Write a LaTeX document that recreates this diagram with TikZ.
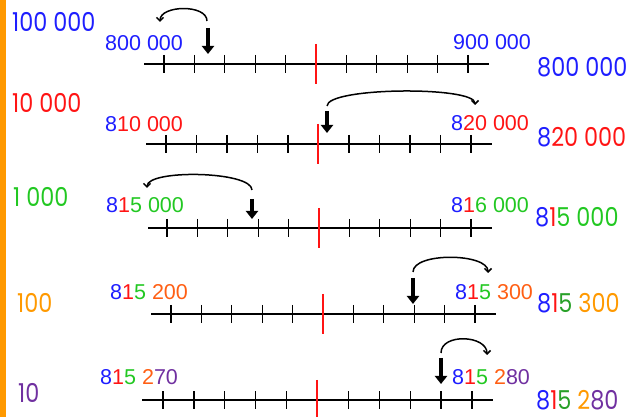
\documentclass[tikz,border=0pt]{standalone}
\usepackage{fontspec}
\setmainfont{Liberation Sans}
\newfontfamily\gothic{Poppins}
\usetikzlibrary{arrows.meta}
\definecolor{numblue}{RGB}{30,30,255}
\definecolor{numred}{RGB}{255,20,20}
\definecolor{numgreen}{RGB}{34,200,34}
\definecolor{darkgreen}{RGB}{40,160,40}
\definecolor{numrust}{RGB}{255,95,20}
\definecolor{numorange}{RGB}{255,153,0}
\definecolor{numpurple}{RGB}{112,48,160}

\begin{document}
\begin{tikzpicture}[x=1pt,y=-1pt,
  lbl/.style={anchor=west,inner sep=0pt,font=\fontsize{21.5}{22}\selectfont},
  place/.style={anchor=west,inner sep=0pt,xscale=0.86,font=\gothic\fontsize{26}{26}\selectfont},
  jump/.style={line width=1.5pt,-{Straight Barb[length=3.5pt,width=7pt]}},
  drop/.style={line width=3.5pt,-{Triangle[length=8pt,width=12pt]}}]
\useasboundingbox (0,0) rectangle (633,417);
\fill[numorange] (0,0) rectangle (6,417);

\draw[line width=1.5pt] (144,64) -- (489,64);
\draw[line width=1.3pt] (164,55) -- (164,73) (194.4,55) -- (194.4,73)
  (224.8,55) -- (224.8,73) (255.2,55) -- (255.2,73) (285.6,55) -- (285.6,73)
  (346.4,55) -- (346.4,73) (376.8,55) -- (376.8,73) (407.2,55) -- (407.2,73)
  (437.6,55) -- (437.6,73) (468,55) -- (468,73);
\draw[numred,line width=2pt] (316,44) -- (316,84);
\node[place,text=numblue] (pv1) at (12,22) {100 000};
\node[lbl,text=numblue] (lo1) at (105,43) {800 000};
\node[lbl,text=numblue] (hi1) at (453,42) {900 000};
\node[place,text=numblue] (res1) at (537,67) {800 000};
\coordinate (a1) at (207,21);
\coordinate (b1) at (160,22);
\coordinate (t1) at (208,28);
\coordinate (h1) at (208,54);
\draw[jump] (a1) .. controls +(0,-17) and +(0,-17) .. (b1);
\draw[drop] (t1) -- (h1);

\draw[line width=1.5pt] (146,144) -- (492,144);
\draw[line width=1.3pt] (166,135) -- (166,153) (196.5,135) -- (196.5,153)
  (227,135) -- (227,153) (257.5,135) -- (257.5,153) (288,135) -- (288,153)
  (349,135) -- (349,153) (379.5,135) -- (379.5,153) (410,135) -- (410,153)
  (440.5,135) -- (440.5,153) (471,135) -- (471,153);
\draw[numred,line width=2pt] (318,124) -- (318,164);
\node[place,text=numred] (pv2) at (12,103) {10 000};
\node[lbl] (lo2) at (105,124) {\textcolor{numblue}{8}\textcolor{numred}{10 000}};
\node[lbl] (hi2) at (451,123) {\textcolor{numblue}{8}\textcolor{numred}{20 000}};
\node[place] (res2) at (537,137) {\textcolor{numblue}{8}\textcolor{numred}{20 000}};
\coordinate (a2) at (327,106);
\coordinate (b2) at (475,105);
\coordinate (t2) at (327,111);
\coordinate (h2) at (327,133);
\draw[jump] (a2) .. controls +(0,-19) and +(0,-19) .. (b2);
\draw[drop] (t2) -- (h2);

\draw[line width=1.5pt] (148,228) -- (492,228);
\draw[line width=1.3pt] (167,219) -- (167,237) (197.4,219) -- (197.4,237)
  (227.8,219) -- (227.8,237) (258.2,219) -- (258.2,237) (288.6,219) -- (288.6,237)
  (349.4,219) -- (349.4,237) (379.8,219) -- (379.8,237) (410.2,219) -- (410.2,237)
  (440.6,219) -- (440.6,237) (471,219) -- (471,237);
\draw[numred,line width=2pt] (319,208) -- (319,248);
\node[place,text=numgreen] (pv3) at (13,197) {1 000};
\node[lbl] (lo3) at (106,205) {\textcolor{numblue}{8}\textcolor{numred}{1}\textcolor{numgreen}{5 000}};
\node[lbl] (hi3) at (451,205) {\textcolor{numblue}{8}\textcolor{numred}{1}\textcolor{numgreen}{6 000}};
\node[place] (res3) at (535,217) {\textcolor{numblue}{8}\textcolor{numred}{1}\textcolor{numgreen}{5 000}};
\coordinate (a3) at (252,190);
\coordinate (b3) at (147,188);
\coordinate (t3) at (252,199);
\coordinate (h3) at (252,219);
\draw[jump] (a3) .. controls +(0,-19) and +(0,-19) .. (b3);
\draw[drop] (t3) -- (h3);

\draw[line width=1.5pt] (151,314) -- (496,314);
\draw[line width=1.3pt] (171,305) -- (171,323) (201.4,305) -- (201.4,323)
  (231.8,305) -- (231.8,323) (262.2,305) -- (262.2,323) (292.6,305) -- (292.6,323)
  (353.4,305) -- (353.4,323) (383.8,305) -- (383.8,323) (414.2,305) -- (414.2,323)
  (444.6,305) -- (444.6,323) (475,305) -- (475,323);
\draw[numred,line width=2pt] (323,294) -- (323,334);
\node[place,text=numorange] (pv4) at (17,303) {100};
\node[lbl] (lo4) at (110,292) {\textcolor{numblue}{8}\textcolor{numred}{1}\textcolor{numgreen}{5} \textcolor{numrust}{200}};
\node[lbl] (hi4) at (455,292) {\textcolor{numblue}{8}\textcolor{numred}{1}\textcolor{numgreen}{5} \textcolor{numrust}{300}};
\node[place] (res4) at (537,303) {\textcolor{numblue}{8}\textcolor{numred}{1}\textcolor{darkgreen}{5} \textcolor{numorange}{300}};
\coordinate (a4) at (413,272);
\coordinate (b4) at (488,273);
\coordinate (t4) at (413,278);
\coordinate (h4) at (413,304);
\draw[jump] (a4) .. controls +(0,-20) and +(0,-20) .. (b4);
\draw[drop] (t4) -- (h4);

\draw[line width=1.5pt] (142,400) -- (493,400);
\draw[line width=1.3pt] (163,391) -- (163,409) (193.9,391) -- (193.9,409)
  (224.8,391) -- (224.8,409) (255.7,391) -- (255.7,409) (286.6,391) -- (286.6,409)
  (348.4,391) -- (348.4,409) (379.3,391) -- (379.3,409) (410.2,391) -- (410.2,409)
  (441.1,391) -- (441.1,409) (472,391) -- (472,409);
\draw[numred,line width=2pt] (317,380) -- (317,420);
\node[place,text=numpurple] (pv5) at (18,393) {10};
\node[lbl] (lo5) at (100,377) {\textcolor{numblue}{8}\textcolor{numred}{1}\textcolor{numgreen}{5} \textcolor{numrust}{2}\textcolor{numpurple}{70}};
\node[lbl] (hi5) at (452,377) {\textcolor{numblue}{8}\textcolor{numred}{1}\textcolor{numgreen}{5} \textcolor{numrust}{2}\textcolor{numpurple}{80}};
\node[place] (res5) at (536,400) {\textcolor{numblue}{8}\textcolor{numred}{1}\textcolor{darkgreen}{5} \textcolor{numorange}{2}\textcolor{numpurple}{80}};
\coordinate (a5) at (441,353);
\coordinate (b5) at (487,355);
\coordinate (t5) at (441,358);
\coordinate (h5) at (441,384);
\draw[jump] (a5) .. controls +(0,-20) and +(0,-20) .. (b5);
\draw[drop] (t5) -- (h5);
\end{tikzpicture}
\end{document}
